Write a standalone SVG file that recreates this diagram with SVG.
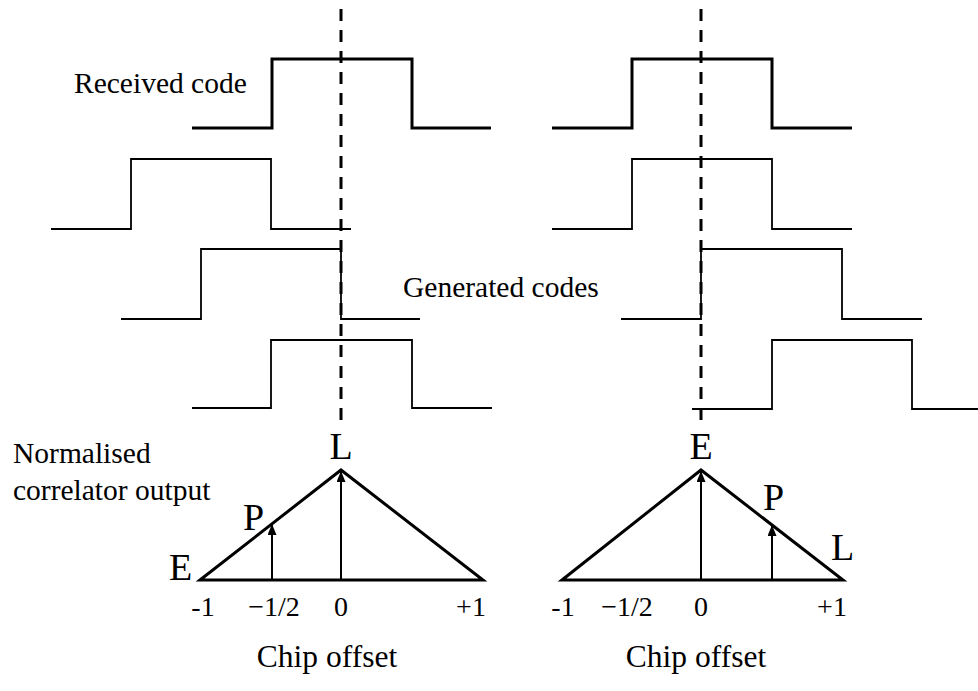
<svg xmlns="http://www.w3.org/2000/svg" width="978" height="691" viewBox="0 0 978 691">
  <style>
    text { font-family: "Liberation Serif", "Times New Roman", serif; fill: #000; }
    .lbl { font-size: 29.5px; }
    .chip { font-size: 31.5px; }
    .tick { font-size: 28px; }
    .big { font-size: 38px; }
    .rx { fill: none; stroke: #000; stroke-width: 3; stroke-linejoin: miter; }
    .gen { fill: none; stroke: #000; stroke-width: 1.8; stroke-linejoin: miter; }
    .dash { stroke: #000; stroke-width: 3; stroke-dasharray: 12 9; }
    .tri { fill: none; stroke: #000; stroke-width: 3; stroke-linejoin: miter; }
    .arr { stroke: #000; stroke-width: 2; marker-end: url(#head); }
  </style>
  <defs>
    <marker id="head" markerUnits="userSpaceOnUse" markerWidth="11" markerHeight="10" refX="11" refY="4.5" orient="auto">
      <path d="M0,0 L11,4.5 L0,9 z" fill="#000"/>
    </marker>
  </defs>
  <rect width="978" height="691" fill="#fff"/>

  <!-- left panel: late replica -->
  <g id="left-received">
    <path class="rx" d="M192,128 H272 V59 H412 V128 H491"/>
    <text class="lbl" x="74" y="93">Received code</text>
  </g>
  <g id="left-generated">
    <path class="gen" d="M51,229 H131 V159 H271 V229 H351"/>
    <path class="gen" d="M121,319 H201 V249 H341 V319 H420"/>
    <path class="gen" d="M192,408 H271 V340 H412 V408 H492"/>
  </g>
  <g id="left-correlation">
    <path class="tri" d="M200,580 L341,470 L483,580 Z"/>
    <text class="lbl" x="13" y="463">Normalised</text>
    <text class="lbl" x="13" y="500">correlator output</text>
    <text class="big" x="169" y="580">E</text>
    <text class="big" x="243" y="530">P</text>
    <text class="big" x="341" y="459" text-anchor="middle">L</text>
    <text class="tick" x="203" y="616" text-anchor="middle">-1</text>
    <text class="tick" x="274" y="616" text-anchor="middle">−1/2</text>
    <text class="tick" x="341" y="616" text-anchor="middle">0</text>
    <text class="tick" x="471" y="616" text-anchor="middle">+1</text>
    <text class="chip" x="327" y="667" text-anchor="middle">Chip offset</text>
  </g>

  <!-- right panel: early replica -->
  <g id="right-received">
    <path class="rx" d="M552,128 H632 V59 H772 V128 H852"/>
  </g>
  <g id="right-generated">
    <path class="gen" d="M552,229 H632 V159 H772 V229 H852"/>
    <path class="gen" d="M621,319 H701 V249 H842 V319 H922"/>
    <path class="gen" d="M692,409 H772 V340 H912 V409 H978"/>
    <text class="lbl" x="403" y="297">Generated codes</text>
  </g>
  <g id="right-correlation">
    <path class="tri" d="M562,580 L701,470 L843,580 Z"/>
    <text class="big" x="701" y="459" text-anchor="middle">E</text>
    <text class="big" x="763" y="510">P</text>
    <text class="big" x="831" y="560">L</text>
    <text class="tick" x="563" y="616" text-anchor="middle">-1</text>
    <text class="tick" x="627" y="616" text-anchor="middle">−1/2</text>
    <text class="tick" x="701" y="616" text-anchor="middle">0</text>
    <text class="tick" x="832" y="616" text-anchor="middle">+1</text>
    <text class="chip" x="696" y="667" text-anchor="middle">Chip offset</text>
  </g>

  <!-- connectors: alignment markers and correlator taps -->
  <g id="connectors">
    <line class="dash" x1="341" y1="9" x2="341" y2="420"/>
    <line class="dash" x1="701" y1="9" x2="701" y2="420"/>
    <line class="arr" x1="341" y1="580" x2="341" y2="471"/>
    <line class="arr" x1="272" y1="580" x2="272" y2="524"/>
    <line class="arr" x1="701" y1="580" x2="701" y2="471"/>
    <line class="arr" x1="772" y1="580" x2="772" y2="525"/>
  </g>
</svg>
